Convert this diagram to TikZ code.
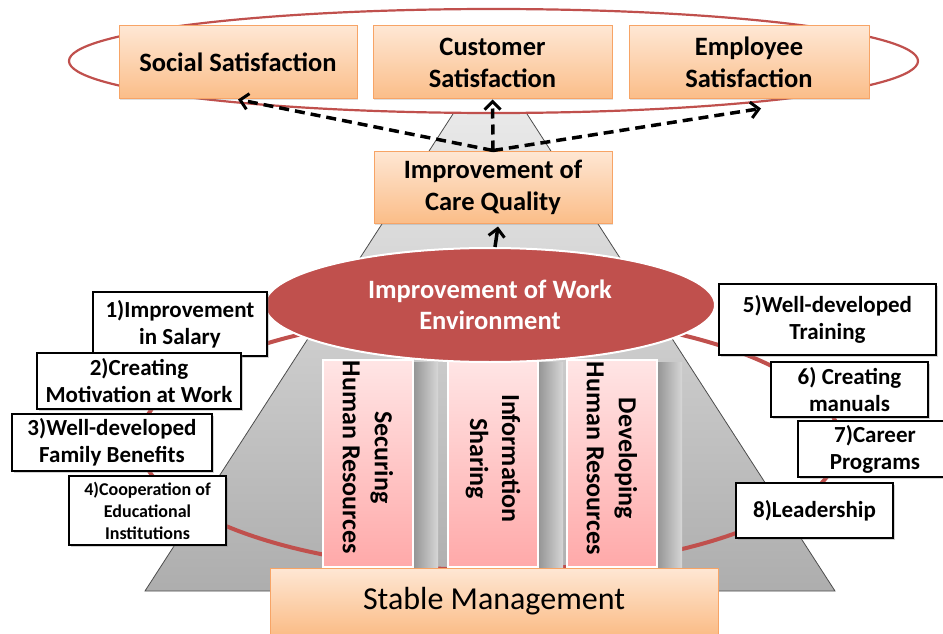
\documentclass[tikz,border=0pt]{standalone}
\usepackage{fontspec}
\setmainfont{Carlito}
\usetikzlibrary{arrows.meta,shapes.geometric,shadows}

\definecolor{peachtop}{HTML}{FEE7D4}
\definecolor{peachbot}{HTML}{FBBD88}
\definecolor{peachline}{HTML}{F7A466}
\definecolor{brick}{HTML}{C0504D}
\definecolor{pinktop}{HTML}{FFE5E5}
\definecolor{pinkbot}{HTML}{FFA9A9}

\begin{document}
\begin{tikzpicture}[x=1pt, y=-1pt,
    goal/.style={draw=peachline, line width=1pt, top color=peachtop, bottom color=peachbot,
        align=center, inner sep=0pt, font=\fontsize{26.5}{32}\selectfont\bfseries,
        drop shadow={shadow xshift=1pt, shadow yshift=-1.5pt, opacity=.25}},
    factor/.style={draw=black, line width=2pt, fill=white, align=center, inner sep=0pt,
        font=\fontsize{23}{27}\selectfont\bfseries,
        drop shadow={shadow xshift=1.5pt, shadow yshift=-1.5pt, opacity=.35}},
    pillar/.style={draw=white, line width=1.5pt, top color=pinktop, bottom color=pinkbot,
        minimum width=90, minimum height=207, inner sep=0pt},
    pillartext/.style={rotate=-90, align=center, inner sep=0pt,
        font=\fontsize{26}{32}\selectfont\bfseries},
    dasharrow/.style={line width=3.5pt, dash pattern=on 10pt off 6pt,
        -{Straight Barb[length=8pt, width=16pt, line width=3pt]}},
    solidarrow/.style={line width=3.5pt, -{Straight Barb[length=8pt, width=16pt, line width=3pt]}},
    ring/.style={draw=brick, line width=4pt}
]
\useasboundingbox (0,0) rectangle (943,634);

% gray pyramid behind everything
\draw[black!70, line width=.8pt, top color=black!8, bottom color=black!32]
    (462,100) -- (518,100) -- (835,591) -- (145,591) -- cycle;

% outer ring of the three satisfactions
\draw[draw=brick, line width=2.2pt, fill=white] (493.5,61) ellipse [x radius=424.5pt, y radius=52pt];

\node[goal, minimum width=238, minimum height=73] (social) at (238,62.5) {Social Satisfaction};
\node[goal, minimum width=239, minimum height=73] (customer) at (492.5,62.5) {Customer\\Satisfaction};
\node[goal, minimum width=240, minimum height=73] (employee) at (749,62.5) {Employee\\Satisfaction};

\node[goal, minimum width=238, minimum height=72] (care) at (493,187) {Improvement of\\Care Quality};

\draw[dasharrow] (care.north) -- (social.south);
\draw[dasharrow] (care.north) -- (customer.south);
\draw[dasharrow] (care.north) -- ([xshift=12pt, yshift=-9pt]employee.south);

% ring of the eight factors
\draw[ring] (490,442) ellipse [x radius=350pt, y radius=128pt];

% pillars with their shadows
\foreach \px in {368,493,612}{
    \fill[left color=black!42, right color=black!16] (\px+45,362) rectangle (\px+70,567);
}
\node[pillar] (secure) at (368,463.5) {};
\node[pillar] (share) at (493,463.5) {};
\node[pillar] (develop) at (612,463.5) {};
\node[pillartext, xshift=-6pt] (securetext) at (secure) {Securing\\Human Resources};
\node[pillartext, xshift=-5pt] (sharetext) at (share) {Information\\Sharing};
\node[pillartext, xshift=-5pt] (developtext) at (develop) {Developing\\Human Resources};

\node[ellipse, draw=white, line width=2pt, fill=brick, text=white, align=center,
    minimum width=450, minimum height=114, inner sep=0pt,
    font=\fontsize{26.5}{31}\selectfont\bfseries] (work) at (490,305)
    {Improvement of Work\\Environment};

\draw[solidarrow] ([xshift=5pt]work.north) -- ([xshift=5pt, yshift=-3pt]care.south);

\node[goal, minimum width=448, minimum height=66, font=\fontsize{32}{36}\selectfont] (stable)
    at (494,601) {Stable Management};

% left factors
\node[factor, minimum width=174, minimum height=64] (f1) at (180,324) {1)Improvement\\in Salary};
\node[factor, minimum width=204, minimum height=56] (f2) at (139,381) {2)Creating\\Motivation at Work};
\node[factor, minimum width=200, minimum height=57] (f3) at (112,442.5) {3)Well-developed\\Family Benefits};
\node[factor, minimum width=157, minimum height=69, font=\fontsize{18}{22}\selectfont\bfseries]
    (f4) at (147.5,510.5) {4)Cooperation of\\Educational\\Institutions};

% right factors
\node[factor, minimum width=217, minimum height=71] (f5) at (827.5,319.5) {5)Well-developed\\Training};
\node[factor, minimum width=157, minimum height=55] (f6) at (849.5,389.5) {6) Creating\\manuals};
\node[factor, minimum width=154, minimum height=56] (f7) at (875,449) {7)Career\\Programs};
\node[factor, minimum width=157, minimum height=55] (f8) at (814.5,510.5) {8)Leadership};
\end{tikzpicture}
\end{document}
